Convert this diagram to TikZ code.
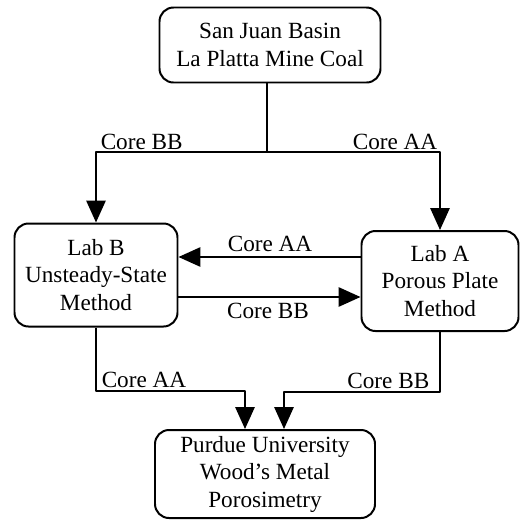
\documentclass[tikz,border=0pt]{standalone}
\usepackage{fontspec}
\setmainfont{Liberation Serif}
\usetikzlibrary{arrows.meta}

\begin{document}
\begin{tikzpicture}[
  x=0.03cm, y=-0.03cm,
  >={Triangle[length=0.66cm,width=0.58cm]},
  line width=1.7pt,
  line join=round,
  every node/.style={font=\fontsize{19.8}{23.5}\selectfont},
  lab/.style={draw,rounded corners=0.42cm,align=center,inner sep=0pt},
  corelabel/.style={inner sep=1.5pt},
  flow/.style={->}
]
\useasboundingbox (0,0) rectangle (523,522);

% ------------------------------------------------------------------
% Boxes
% ------------------------------------------------------------------
\node[lab,minimum width=221*0.03cm,minimum height=75*0.03cm] (coal) at (270,45)
  {San Juan Basin\\La Platta Mine Coal};
\node[lab,minimum width=163*0.03cm,minimum height=103*0.03cm] (labB) at (96,275)
  {Lab B\\Unsteady-State\\Method};
\node[lab,minimum width=157*0.03cm,minimum height=100*0.03cm] (labA) at (440,281)
  {Lab A\\Porous Plate\\Method};
\node[lab,minimum width=220*0.03cm,minimum height=88*0.03cm] (wood) at (265,474)
  {Purdue University\\Wood's Metal\\Porosimetry};

% ------------------------------------------------------------------
% Supply of the cores
% ------------------------------------------------------------------
\coordinate (split) at (267,152);
\draw (coal.south -| split) -- (split);
\draw[flow] (split) -| (labB.north);
\draw[flow] (split) -| (labA.north);
\node[corelabel,anchor=south west] (bbtop) at (98,152) {Core BB};
\node[corelabel,anchor=south east] (aatop) at (440,152) {Core AA};

% exchange between the labs
\draw[flow] (labA.west |- 0,257) -- (labB.east |- 0,257);
\draw[flow] (labB.east |- 0,297) -- (labA.west |- 0,297);
\node[corelabel,anchor=south] (aamid) at (270,254) {Core AA};
\node[corelabel,anchor=north] (bbmid) at (268,300) {Core BB};

% ------------------------------------------------------------------
% To the porosimetry
% ------------------------------------------------------------------
\coordinate (jB) at (245,391);
\coordinate (jA) at (284,392);
\draw[flow] (labB.south) |- (jB) -- (wood.north -| jB);
\draw[flow] (labA.south) |- (jA) -- (wood.north -| jA);
\node[corelabel,anchor=south west] (aabot) at (99,390) {Core AA};
\node[corelabel,anchor=south east] (bbbot) at (432,391) {Core BB};

\end{tikzpicture}
\end{document}
